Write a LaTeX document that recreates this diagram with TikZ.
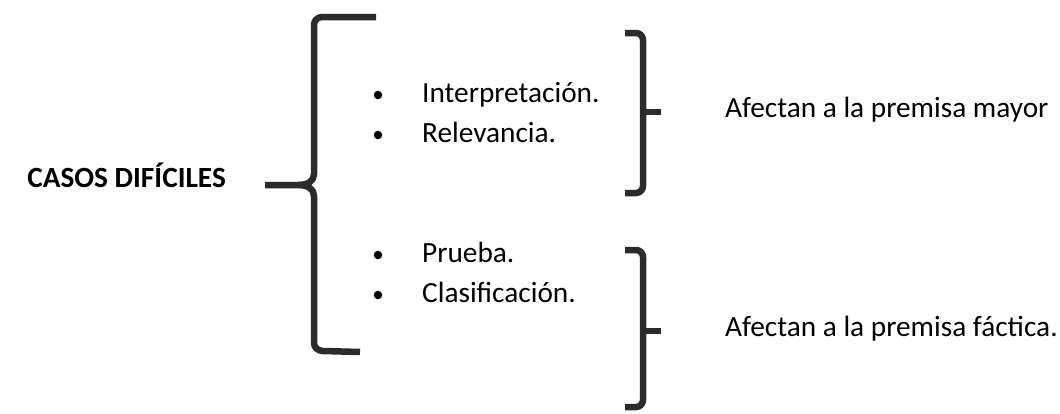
\documentclass[tikz,border=0pt]{standalone}
\usepackage{fontspec}
\setmainfont{Carlito}
\definecolor{ink}{HTML}{2B2B2B}
\begin{document}
\begin{tikzpicture}[x=1pt,y=-1pt,
  brace/.style={draw=ink,line width=6.5pt,line cap=butt,line join=round},
  lbl/.style={anchor=base west,inner sep=0pt,font=\fontsize{29.3}{35}\selectfont},
  dot/.style={circle,fill=black,inner sep=0pt,minimum size=8.5pt}]
\useasboundingbox (0,0) rectangle (1060,413);
% main brace
\draw[brace] (376,17) -- (322,17) to[out=180,in=90] (314,25) -- (314,174)
  .. controls (314,181) and (308,185) .. (298,185) -- (265,185);
\draw[brace] (298,185) .. controls (308,185) and (314,189) .. (314,196) -- (314,343)
  to[out=-90,in=180] (323,351) -- (360,352);
% title
\node[anchor=base east,inner sep=0pt,font=\bfseries\fontsize{29.3}{35}\selectfont] (title) at (226,187) {CASOS DIFÍCILES};
% bullets
\node[dot] (b1) at (378,95) {};
\node[dot] (b2) at (378,135) {};
\node[dot] (b3) at (378,255) {};
\node[dot] (b4) at (378,295) {};
\node[lbl] (t1) at (422,102) {Interpretación.};
\node[lbl] (t2) at (422,142) {Relevancia.};
\node[lbl] (t3) at (422,262) {Prueba.};
\node[lbl] (t4) at (422,302) {Clasificación.};
% right brace 1
\draw[brace] (625,33) -- (636,33) to[out=0,in=90] (643,40) -- (643,186) to[out=-90,in=0] (636,193) -- (625,193);
\draw[brace] (643,112) -- (661,112);
% right brace 2
\draw[brace] (625,250) -- (636,250) to[out=0,in=90] (643,257) -- (643,400) to[out=-90,in=0] (636,407) -- (625,407);
\draw[brace] (643,331) -- (661,331);
\node[lbl] (r1) at (725,117) {Afectan a la premisa mayor};
\node[lbl] (r2) at (725,336) {Afectan a la premisa fáctica.};
\end{tikzpicture}
\end{document}
